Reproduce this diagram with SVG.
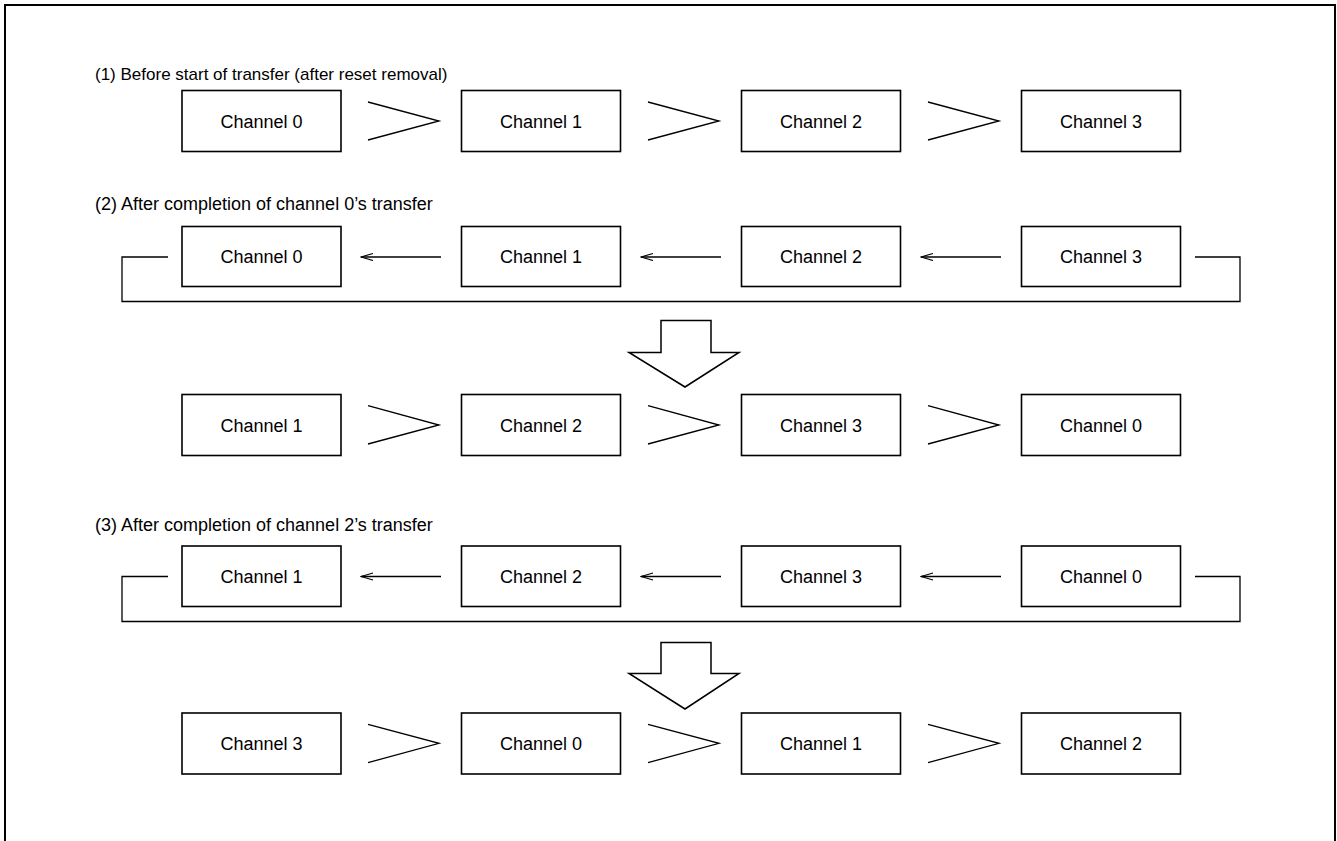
<svg xmlns="http://www.w3.org/2000/svg" width="1337" height="841" viewBox="0 0 1337 841">
<defs>
<style>
.box{fill:#fff;stroke:#000;stroke-width:1.6}
.t{font-family:"Liberation Sans",Arial,sans-serif;font-size:18px;fill:#000;text-anchor:middle}
.lbl{font-family:"Liberation Sans",Arial,sans-serif;font-size:18px;fill:#000}
.ln{fill:none;stroke:#000;stroke-width:1.3}
.big{fill:#fff;stroke:#000;stroke-width:1.5;stroke-linejoin:miter}
</style>
<marker id="ah" markerWidth="14" markerHeight="10" refX="13" refY="4" orient="auto" markerUnits="userSpaceOnUse">
<path d="M1,0.5 L13,4 L1,7.5" fill="none" stroke="#000" stroke-width="1.2"/>
</marker>
</defs>
<rect width="1337" height="841" fill="#fff"/>
<path d="M5,841 V5 H1335 V841" fill="none" stroke="#000" stroke-width="2"/>

<text class="lbl" x="95" y="80" style="font-size:17px">(1) Before start of transfer (after reset removal)</text>
<text class="lbl" x="95" y="210">(2) After completion of channel 0’s transfer</text>
<text class="lbl" x="95" y="530.5">(3) After completion of channel 2’s transfer</text>

<g id="r1n0"><rect class="box" x="182" y="90.5" width="159" height="61"/><text class="t" x="261.5" y="127.5">Channel 0</text></g>
<g id="r1n1"><rect class="box" x="461.5" y="90.5" width="159" height="61"/><text class="t" x="541" y="127.5">Channel 1</text></g>
<g id="r1n2"><rect class="box" x="741.5" y="90.5" width="159" height="61"/><text class="t" x="821" y="127.5">Channel 2</text></g>
<g id="r1n3"><rect class="box" x="1021.5" y="90.5" width="159" height="61"/><text class="t" x="1101" y="127.5">Channel 3</text></g>

<g id="r2n0"><rect class="box" x="182" y="226.5" width="159" height="60"/><text class="t" x="261.5" y="263">Channel 0</text></g>
<g id="r2n1"><rect class="box" x="461.5" y="226.5" width="159" height="60"/><text class="t" x="541" y="263">Channel 1</text></g>
<g id="r2n2"><rect class="box" x="741.5" y="226.5" width="159" height="60"/><text class="t" x="821" y="263">Channel 2</text></g>
<g id="r2n3"><rect class="box" x="1021.5" y="226.5" width="159" height="60"/><text class="t" x="1101" y="263">Channel 3</text></g>

<g id="r3n0"><rect class="box" x="182" y="394.5" width="159" height="61"/><text class="t" x="261.5" y="431.5">Channel 1</text></g>
<g id="r3n1"><rect class="box" x="461.5" y="394.5" width="159" height="61"/><text class="t" x="541" y="431.5">Channel 2</text></g>
<g id="r3n2"><rect class="box" x="741.5" y="394.5" width="159" height="61"/><text class="t" x="821" y="431.5">Channel 3</text></g>
<g id="r3n3"><rect class="box" x="1021.5" y="394.5" width="159" height="61"/><text class="t" x="1101" y="431.5">Channel 0</text></g>

<g id="r4n0"><rect class="box" x="182" y="546" width="159" height="60.5"/><text class="t" x="261.5" y="583">Channel 1</text></g>
<g id="r4n1"><rect class="box" x="461.5" y="546" width="159" height="60.5"/><text class="t" x="541" y="583">Channel 2</text></g>
<g id="r4n2"><rect class="box" x="741.5" y="546" width="159" height="60.5"/><text class="t" x="821" y="583">Channel 3</text></g>
<g id="r4n3"><rect class="box" x="1021.5" y="546" width="159" height="60.5"/><text class="t" x="1101" y="583">Channel 0</text></g>

<g id="r5n0"><rect class="box" x="182" y="713" width="159" height="61"/><text class="t" x="261.5" y="750">Channel 3</text></g>
<g id="r5n1"><rect class="box" x="461.5" y="713" width="159" height="61"/><text class="t" x="541" y="750">Channel 0</text></g>
<g id="r5n2"><rect class="box" x="741.5" y="713" width="159" height="61"/><text class="t" x="821" y="750">Channel 1</text></g>
<g id="r5n3"><rect class="box" x="1021.5" y="713" width="159" height="61"/><text class="t" x="1101" y="750">Channel 2</text></g>

<g id="connectors">
<path class="ln" d="M368,102 L439,121 L368,140 M648,102 L719,121 L648,140 M928,102 L999,121 L928,140"/>
<path class="ln" d="M368,405.7 L439,425 L368,444 M648,405.7 L719,425 L648,444 M928,405.7 L999,425 L928,444"/>
<path class="ln" d="M368,724.3 L439,743.3 L368,762.7 M648,724.3 L719,743.3 L648,762.7 M928,724.3 L999,743.3 L928,762.7"/>
<line class="ln" x1="441" y1="257" x2="361" y2="257" marker-end="url(#ah)"/>
<line class="ln" x1="721" y1="257" x2="641" y2="257" marker-end="url(#ah)"/>
<line class="ln" x1="1001" y1="257" x2="921" y2="257" marker-end="url(#ah)"/>
<path class="ln" d="M168,257 H122 V301.5 H1240 V257 H1195"/>
<line class="ln" x1="441" y1="576.5" x2="361" y2="576.5" marker-end="url(#ah)"/>
<line class="ln" x1="721" y1="576.5" x2="641" y2="576.5" marker-end="url(#ah)"/>
<line class="ln" x1="1001" y1="576.5" x2="921" y2="576.5" marker-end="url(#ah)"/>
<path class="ln" d="M168,576.5 H122 V621.5 H1240 V576.5 H1195"/>
<polygon class="big" points="661,320.5 711,320.5 711,352.5 739,352.5 685,387 629,352.5 661,352.5"/>
<polygon class="big" points="661,642.5 711,642.5 711,673.5 739,673.5 685,709 629,673.5 661,673.5"/>
</g>
</svg>
